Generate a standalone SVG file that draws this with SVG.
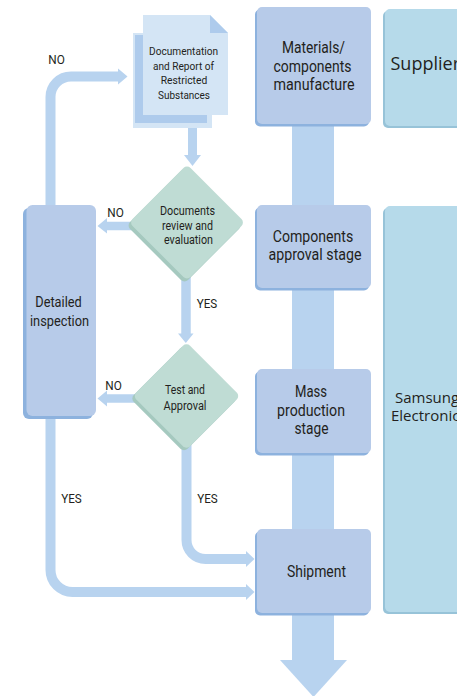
<svg xmlns="http://www.w3.org/2000/svg" width="457" height="696" viewBox="0 0 457 696">
<style>
text{font-family:Roboto,"Liberation Sans",sans-serif;fill:#231f20;text-anchor:middle}
.box{fill:#b7cbe9}.boxs{fill:#8db2de}
.org{fill:#b6daea}.orgs{fill:#97c3d8}
.dia{fill:#bfdcd4}.dias{fill:#a5c9bf}
.ln{fill:none;stroke:#b8d3ef;stroke-width:10}
.hd{fill:#b8d3ef}
.t16{font-size:16px}.t15{font-size:15px}.t12{font-size:12px}.t11{font-size:11px}.t14{font-size:13.5px}
.os{font-family:"Open Sans","Liberation Sans",sans-serif;text-anchor:start}
</style>
<rect width="457" height="696" fill="#ffffff"/>
<g id="connectors">
<rect x="292" y="120" width="42" height="542" class="hd"/>
<polygon points="280,660 347,660 313.5,697" class="hd"/>
<path d="M50.5,210 V97 A20.5,20.5 0 0 1 71,76.5 H119" class="ln"/>
<polygon points="118,68.5 127.5,76.5 118,84.5" class="hd"/>
<path d="M50.5,415 V570 A22,22 0 0 0 72.5,592 H247" class="ln"/>
<polygon points="246,584 254.5,592 246,600" class="hd"/>
<path d="M186.5,440 V540 A19,19 0 0 0 205.5,559 H247" class="ln"/>
<polygon points="246,551 254.5,559 246,567" class="hd"/>
<path d="M186,270 V335" class="ln" style="stroke-width:9.5"/>
<polygon points="178,333.5 193.5,333.5 185.8,343" class="hd"/>
<path d="M192.5,125 V157" class="ln" style="stroke-width:9"/>
<polygon points="184,155 201,155 192.5,166" class="hd"/>
<path d="M140,226 H106" class="ln" style="stroke-width:8.5"/>
<polygon points="107,218 107,233.5 97.5,226" class="hd"/>
<path d="M140,398.5 H106" class="ln" style="stroke-width:8.5"/>
<polygon points="107,390.5 107,406.5 97.5,398.5" class="hd"/>
</g>
<g id="doc">
<rect x="133" y="33" width="79" height="95" fill="#d4e5f5"/>
<rect x="135" y="35" width="72" height="88" fill="#aecbec"/>
<path d="M143,15 H210 L228,33 V115 H143 Z" fill="#d4e5f5"/>
<path d="M210,15 L228,33 H210 Z" fill="#aecbec"/>
<text class="t11" x="183.5" y="55" textLength="69" lengthAdjust="spacingAndGlyphs">Documentation</text>
<text class="t11" x="183.5" y="69.5" textLength="61" lengthAdjust="spacingAndGlyphs">and Report of</text>
<text class="t11" x="184" y="84" textLength="46.5" lengthAdjust="spacingAndGlyphs">Restricted</text>
<text class="t11" x="184" y="98.5" textLength="52" lengthAdjust="spacingAndGlyphs">Substances</text>
</g>
<g id="review">
<rect x="-41" y="-41" width="82" height="82" rx="5" class="dias" transform="translate(184.5,225.5) rotate(45)"/>
<rect x="-41" y="-41" width="82" height="82" rx="5" class="dia" transform="translate(187,222.5) rotate(45)"/>
<text class="t12" x="187.5" y="215" textLength="55" lengthAdjust="spacingAndGlyphs">Documents</text>
<text class="t12" x="187.5" y="229.5" textLength="51" lengthAdjust="spacingAndGlyphs">review and</text>
<text class="t12" x="188.5" y="244" textLength="49" lengthAdjust="spacingAndGlyphs">evaluation</text>
</g>
<g id="test">
<rect x="-38" y="-38" width="76" height="76" rx="5" class="dias" transform="translate(184,398.5) rotate(45)"/>
<rect x="-38" y="-38" width="76" height="76" rx="5" class="dia" transform="translate(186.5,396) rotate(45)"/>
<text class="t12" x="185" y="394" textLength="40" lengthAdjust="spacingAndGlyphs">Test and</text>
<text class="t12" x="185" y="410" textLength="43" lengthAdjust="spacingAndGlyphs">Approval</text>
</g>
<g id="inspection">
<rect x="23" y="208" width="70" height="211" rx="6" class="boxs"/>
<rect x="26.5" y="205" width="69.5" height="211" rx="6" class="box"/>
<text class="t15" x="58.5" y="307" textLength="46.5" lengthAdjust="spacingAndGlyphs">Detailed</text>
<text class="t15" x="59.5" y="325.5" textLength="59" lengthAdjust="spacingAndGlyphs">inspection</text>
</g>
<g id="materials">
<rect x="255" y="9.5" width="114" height="117" rx="5" class="boxs"/>
<rect x="257" y="7" width="114" height="117" rx="5" class="box"/>
<text class="t16" x="313.5" y="53" textLength="63" lengthAdjust="spacingAndGlyphs">Materials/</text>
<text class="t16" x="312.5" y="71.5" textLength="78" lengthAdjust="spacingAndGlyphs">components</text>
<text class="t16" x="314" y="90" textLength="81" lengthAdjust="spacingAndGlyphs">manufacture</text>
</g>
<g id="components">
<rect x="255" y="207.5" width="114" height="83" rx="5" class="boxs"/>
<rect x="257" y="205" width="114" height="83" rx="5" class="box"/>
<text class="t16" x="313" y="242" textLength="80.5" lengthAdjust="spacingAndGlyphs">Components</text>
<text class="t16" x="315" y="260" textLength="93" lengthAdjust="spacingAndGlyphs">approval stage</text>
</g>
<g id="mass">
<rect x="255" y="371.5" width="114" height="84" rx="5" class="boxs"/>
<rect x="257" y="369" width="114" height="84" rx="5" class="box"/>
<text class="t16" x="311" y="397" textLength="32" lengthAdjust="spacingAndGlyphs">Mass</text>
<text class="t16" x="311" y="415.5" textLength="68" lengthAdjust="spacingAndGlyphs">production</text>
<text class="t16" x="311.5" y="434" textLength="34" lengthAdjust="spacingAndGlyphs">stage</text>
</g>
<g id="shipment">
<rect x="255" y="531.5" width="114" height="84" rx="5" class="boxs"/>
<rect x="257" y="529" width="114" height="84" rx="5" class="box"/>
<text class="t16" x="316.5" y="577" textLength="59" lengthAdjust="spacingAndGlyphs">Shipment</text>
</g>
<g id="supplier">
<rect x="383" y="11" width="90" height="117" rx="5" class="orgs"/>
<rect x="385" y="9" width="90" height="117" rx="5" class="org"/>
<text class="os" x="390.5" y="70" style="font-size:18px">Supplier</text>
</g>
<g id="samsung">
<rect x="383" y="208" width="90" height="406" rx="5" class="orgs"/>
<rect x="385" y="206" width="90" height="406" rx="5" class="org"/>
<text class="os" x="395" y="403" style="font-size:15px">Samsung</text>
<text class="os" x="391" y="421" style="font-size:15px">Electronics</text>
</g>
<g id="labels">
<text class="t14" x="56.5" y="63.5" textLength="16.5" lengthAdjust="spacingAndGlyphs">NO</text>
<text class="t14" x="115.5" y="216.5" textLength="16.5" lengthAdjust="spacingAndGlyphs">NO</text>
<text class="t14" x="113.5" y="389.5" textLength="16.5" lengthAdjust="spacingAndGlyphs">NO</text>
<text class="t14" x="207" y="308" textLength="20.5" lengthAdjust="spacingAndGlyphs">YES</text>
<text class="t14" x="71.5" y="502.5" textLength="20.5" lengthAdjust="spacingAndGlyphs">YES</text>
<text class="t14" x="207.5" y="503" textLength="20.5" lengthAdjust="spacingAndGlyphs">YES</text>
</g>
</svg>
